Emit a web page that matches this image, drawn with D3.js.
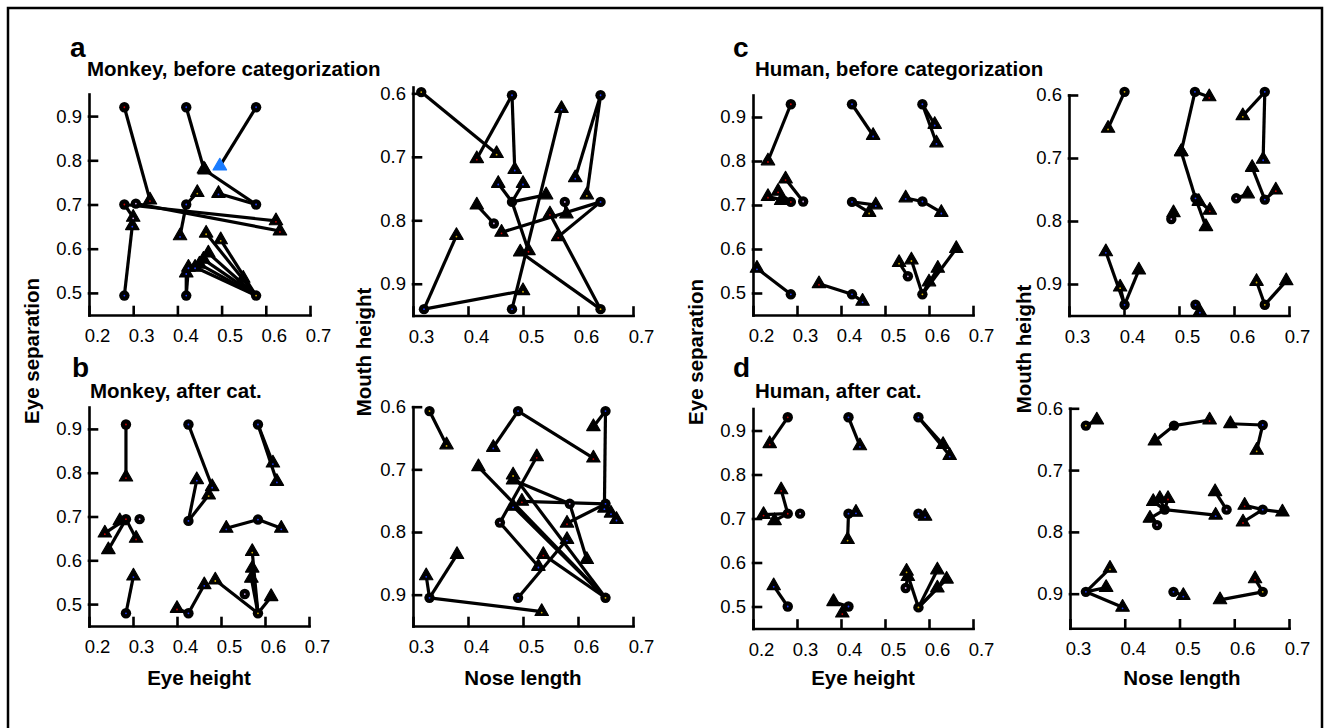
<!DOCTYPE html>
<head>
<meta charset="utf-8">
<script src="https://d3js.org/d3.v7.min.js"></script>
<style>
  body { margin: 0; background: #fff; }
  text { font-family: "Liberation Sans", Arial, sans-serif; fill: #000; }
  .letter { font-weight: bold; font-size: 28px; }
  .title, .axis-title { font-weight: bold; font-size: 20.5px; }
  .axis path, .axis line { stroke: #000; stroke-width: 2.6px; stroke-linecap: square; }
  .axis text { font-size: 18.5px; }
  .link { stroke: #000; stroke-width: 3.2px; }
</style>
</head>
<body>
<script>

// tick labels
var eyeHeightTicks = [0.2, 0.3, 0.4, 0.5, 0.6, 0.7];
var eyeSepTicks = [0.5, 0.6, 0.7, 0.8, 0.9];
var noseTicks = [0.3, 0.4, 0.5, 0.6, 0.7];
var mouthTicks = [0.6, 0.7, 0.8, 0.9];

// prototypes (circles): [x, y, colour]
// measured (triangles): [x, y, index of prototype it is linked to, colour]
var monkeyBeforeEyeCircles = [
  [0.28, 0.92, "r"], [0.42, 0.92, "b"], [0.578, 0.92, "b"],
  [0.28, 0.70, "r"], [0.306, 0.702, "p"], [0.42, 0.70, "b"], [0.578, 0.70, "b"],
  [0.28, 0.494, "b"], [0.42, 0.494, "b"], [0.578, 0.494, "y"]
];
var monkeyBeforeEyeTriangles = [
  [0.338, 0.71, 0, "r"], [0.46, 0.78, 1, "k"], [0.462, 0.778, 6, "k"],
  [0.496, 0.787, 2, "B"], [0.493, 0.725, 6, "b"], [0.623, 0.663, 3, "r"],
  [0.632, 0.64, 4, "r"], [0.30, 0.671, 3, "p"], [0.298, 0.652, 7, "b"],
  [0.406, 0.629, 5, "b"], [0.445, 0.727, 5, "y"], [0.425, 0.558, 8, "b"],
  [0.42, 0.545, 8, "b"], [0.465, 0.635, 9, "y"], [0.498, 0.62, 9, "y"],
  [0.47, 0.59, 9, "k"], [0.459, 0.576, 9, "k"], [0.45, 0.565, 9, "k"],
  [0.44, 0.558, 9, "b"], [0.549, 0.533, 9, "k"]
];

var monkeyBeforeNoseCircles = [
  [0.315, 0.598, "y"], [0.48, 0.603, "b"], [0.641, 0.603, "b"],
  [0.48, 0.771, "k"], [0.576, 0.771, "p"], [0.641, 0.771, "b"],
  [0.447, 0.805, "p"], [0.32, 0.94, "b"], [0.48, 0.94, "b"], [0.641, 0.94, "y"]
];
var monkeyBeforeNoseTriangles = [
  [0.452, 0.695, 0, "y"], [0.416, 0.703, 1, "r"], [0.485, 0.72, 1, "b"],
  [0.57, 0.624, 8, "b"], [0.595, 0.733, 2, "b"], [0.616, 0.76, 2, "y"],
  [0.455, 0.742, 3, "b"], [0.50, 0.742, 3, "b"], [0.542, 0.76, 3, "k"],
  [0.416, 0.776, 6, "k"], [0.461, 0.819, 5, "r"], [0.549, 0.79, 9, "r"],
  [0.579, 0.79, 4, "k"], [0.564, 0.826, 5, "r"], [0.379, 0.824, 7, "y"],
  [0.51, 0.848, 3, "r"], [0.495, 0.85, 9, "k"], [0.50, 0.911, 7, "y"]
];

var monkeyAfterEyeCircles = [
  [0.284, 0.91, "r"], [0.426, 0.91, "b"], [0.584, 0.91, "b"],
  [0.284, 0.694, "r"], [0.315, 0.694, "p"], [0.426, 0.69, "b"], [0.584, 0.693, "b"],
  [0.284, 0.479, "b"], [0.426, 0.479, "b"], [0.584, 0.479, "y"], [0.554, 0.523, "p"]
];
var monkeyAfterEyeTriangles = [
  [0.284, 0.79, 0, "r"], [0.445, 0.784, 5, "b"], [0.48, 0.768, 1, "b"],
  [0.472, 0.749, 5, "y"], [0.618, 0.822, 2, "b"], [0.627, 0.78, 2, "b"],
  [0.512, 0.673, 6, "b"], [0.637, 0.673, 6, "b"], [0.236, 0.662, 3, "r"],
  [0.244, 0.624, 3, "k"], [0.307, 0.65, 3, "r"], [0.27, 0.69, 3, "k"],
  [0.301, 0.564, 7, "b"], [0.40, 0.49, 8, "r"], [0.462, 0.544, 8, "b"],
  [0.487, 0.555, 9, "y"], [0.571, 0.62, 9, "y"], [0.571, 0.582, 9, "k"],
  [0.569, 0.559, 9, "k"], [0.614, 0.517, 9, "k"]
];

var monkeyAfterNoseCircles = [
  [0.33, 0.607, "y"], [0.491, 0.607, "b"], [0.65, 0.607, "b"],
  [0.585, 0.755, "p"], [0.65, 0.755, "b"], [0.458, 0.785, "p"],
  [0.33, 0.905, "b"], [0.491, 0.905, "b"], [0.65, 0.905, "y"]
];
var monkeyAfterNoseTriangles = [
  [0.361, 0.661, 0, "y"], [0.446, 0.665, 1, "b"], [0.628, 0.682, 1, "r"],
  [0.628, 0.632, 2, "k"], [0.648, 0.762, 2, "b"], [0.419, 0.696, 8, "k"],
  [0.482, 0.709, 8, "y"], [0.482, 0.717, 3, "k"], [0.525, 0.68, 5, "r"],
  [0.498, 0.751, 4, "r"], [0.482, 0.759, 8, "b"], [0.58, 0.786, 4, "r"],
  [0.66, 0.77, 4, "b"], [0.67, 0.78, 4, "b"], [0.528, 0.855, 5, "b"],
  [0.58, 0.812, 7, "b"], [0.537, 0.836, 8, "r"], [0.616, 0.844, 3, "k"],
  [0.38, 0.836, 6, "k"], [0.324, 0.87, 6, "b"], [0.534, 0.927, 6, "y"]
];

var humanBeforeEyeCircles = [
  [0.286, 0.929, "r"], [0.425, 0.929, "b"], [0.585, 0.929, "b"],
  [0.286, 0.707, "r"], [0.314, 0.708, "p"], [0.425, 0.707, "b"], [0.585, 0.708, "b"],
  [0.286, 0.497, "b"], [0.425, 0.497, "b"], [0.585, 0.497, "y"], [0.552, 0.538, "p"]
];
var humanBeforeEyeTriangles = [
  [0.234, 0.80, 0, "r"], [0.473, 0.858, 1, "b"], [0.613, 0.883, 2, "b"],
  [0.617, 0.841, 2, "b"], [0.274, 0.759, 4, "r"], [0.257, 0.731, 3, "r"],
  [0.234, 0.719, 3, "r"], [0.264, 0.71, 3, "k"], [0.479, 0.70, 5, "b"],
  [0.464, 0.683, 5, "y"], [0.547, 0.716, 6, "b"], [0.628, 0.683, 6, "b"],
  [0.209, 0.556, 7, "b"], [0.35, 0.521, 8, "r"], [0.449, 0.481, 8, "b"],
  [0.532, 0.569, 10, "y"], [0.56, 0.575, 9, "y"], [0.60, 0.525, 9, "k"],
  [0.62, 0.556, 9, "k"], [0.662, 0.601, 9, "k"]
];

var humanBeforeNoseCircles = [
  [0.401, 0.595, "y"], [0.529, 0.595, "b"], [0.656, 0.595, "b"],
  [0.53, 0.764, "b"], [0.604, 0.764, "p"], [0.656, 0.766, "b"], [0.486, 0.797, "p"],
  [0.401, 0.933, "b"], [0.53, 0.933, "b"], [0.656, 0.933, "y"]
];
var humanBeforeNoseTriangles = [
  [0.371, 0.653, 0, "y"], [0.555, 0.603, 1, "r"], [0.504, 0.69, 1, "k"],
  [0.504, 0.69, 3, "k"], [0.616, 0.633, 2, "y"], [0.653, 0.702, 2, "b"],
  [0.633, 0.715, 5, "k"], [0.625, 0.757, 4, "k"], [0.676, 0.751, 5, "r"],
  [0.536, 0.769, 3, "k"], [0.556, 0.783, 3, "r"], [0.549, 0.809, 3, "k"],
  [0.49, 0.787, 6, "k"], [0.367, 0.849, 7, "b"], [0.393, 0.905, 7, "y"],
  [0.427, 0.878, 7, "k"], [0.538, 0.944, 8, "b"], [0.641, 0.896, 9, "y"],
  [0.695, 0.895, 9, "k"]
];

var humanAfterEyeCircles = [
  [0.279, 0.93, "r"], [0.417, 0.93, "b"], [0.576, 0.93, "b"],
  [0.279, 0.711, "r"], [0.307, 0.711, "p"], [0.417, 0.711, "b"], [0.576, 0.711, "b"],
  [0.279, 0.50, "b"], [0.417, 0.50, "b"], [0.576, 0.498, "y"], [0.547, 0.542, "p"]
];
var humanAfterEyeTriangles = [
  [0.238, 0.87, 0, "r"], [0.443, 0.865, 1, "b"], [0.632, 0.868, 2, "k"],
  [0.647, 0.843, 2, "b"], [0.264, 0.765, 3, "r"], [0.224, 0.709, 3, "r"],
  [0.249, 0.695, 3, "k"], [0.434, 0.714, 5, "b"], [0.415, 0.652, 5, "y"],
  [0.591, 0.705, 6, "b"], [0.247, 0.547, 7, "b"], [0.383, 0.511, 8, "k"],
  [0.403, 0.485, 8, "r"], [0.549, 0.58, 9, "y"], [0.552, 0.568, 10, "k"],
  [0.619, 0.583, 9, "k"], [0.64, 0.562, 9, "k"], [0.619, 0.542, 9, "k"]
];

var humanAfterNoseCircles = [
  [0.329, 0.628, "y"], [0.49, 0.628, "k"], [0.652, 0.627, "b"],
  [0.473, 0.764, "k"], [0.459, 0.789, "p"], [0.586, 0.764, "p"], [0.652, 0.764, "b"],
  [0.329, 0.897, "b"], [0.489, 0.897, "b"], [0.652, 0.897, "y"]
];
var humanAfterNoseTriangles = [
  [0.349, 0.619, 0, "k"], [0.555, 0.619, 1, "r"], [0.455, 0.653, 1, "k"],
  [0.593, 0.625, 2, "k"], [0.641, 0.668, 2, "y"], [0.452, 0.751, 3, "k"],
  [0.464, 0.746, 3, "k"], [0.479, 0.746, 3, "r"], [0.446, 0.778, 3, "k"],
  [0.566, 0.773, 3, "b"], [0.565, 0.735, 5, "k"], [0.619, 0.757, 6, "r"],
  [0.616, 0.784, 6, "r"], [0.688, 0.768, 6, "k"], [0.373, 0.859, 7, "y"],
  [0.366, 0.89, 7, "k"], [0.396, 0.922, 7, "b"], [0.507, 0.903, 8, "b"],
  [0.574, 0.91, 9, "k"], [0.638, 0.876, 9, "r"]
];

var dotColor = { r: "#d00000", b: "#1f3cff", y: "#d8b000", p: "#c9a3e8" };

var svg = d3.select("body").append("svg")
    .attr("width", 1326)
    .attr("height", 728);

// frame
svg.append("path")
    .attr("d", "M8,728V8H1322V728")
    .attr("fill", "none")
    .attr("stroke", "#000")
    .attr("stroke-width", 2.5);

var panels = [
  {c: monkeyBeforeEyeCircles, t: monkeyBeforeEyeTriangles, xd: [0.2, 0.7], xr: [89, 310], yd: [0.45, 0.95], yr: [315, 94], xt: eyeHeightTicks, yt: eyeSepTicks},
  {c: monkeyBeforeNoseCircles, t: monkeyBeforeNoseTriangles, xd: [0.3, 0.7], xr: [413, 633], yd: [0.59, 0.95], yr: [87, 315.5], xt: noseTicks, yt: mouthTicks},
  {c: monkeyAfterEyeCircles, t: monkeyAfterEyeTriangles, xd: [0.2, 0.7], xr: [89, 309], yd: [0.45, 0.95], yr: [626, 407], xt: eyeHeightTicks, yt: eyeSepTicks},
  {c: monkeyAfterNoseCircles, t: monkeyAfterNoseTriangles, xd: [0.3, 0.7], xr: [413, 633], yd: [0.6, 0.95], yr: [406.7, 626], xt: noseTicks, yt: mouthTicks},
  {c: humanBeforeEyeCircles, t: humanBeforeEyeTriangles, xd: [0.2, 0.7], xr: [753, 973], yd: [0.45, 0.95], yr: [315, 95], xt: eyeHeightTicks, yt: eyeSepTicks},
  {c: humanBeforeNoseCircles, t: humanBeforeNoseTriangles, xd: [0.3, 0.7], xr: [1069, 1289], yd: [0.6, 0.95], yr: [95, 315.5], xt: noseTicks, yt: mouthTicks},
  {c: humanAfterEyeCircles, t: humanAfterEyeTriangles, xd: [0.2, 0.7], xr: [753, 973], yd: [0.45, 0.95], yr: [628.5, 408.5], xt: eyeHeightTicks, yt: eyeSepTicks},
  {c: humanAfterNoseCircles, t: humanAfterNoseTriangles, xd: [0.3, 0.7], xr: [1070, 1289], yd: [0.6, 0.956], yr: [408.3, 628.3], xt: noseTicks, yt: mouthTicks}
];

var fmt = d3.format(".1f");
var tri = d3.symbol().type(d3.symbolTriangle).size(78);

panels.forEach(function(p) {
  var x = d3.scaleLinear().domain(p.xd).range(p.xr);
  var y = d3.scaleLinear().domain(p.yd).range(p.yr);
  var bottom = d3.max(p.yr);
  var g = svg.append("g");

  g.append("g")
      .attr("class", "axis")
      .attr("transform", "translate(0," + bottom + ")")
      .call(d3.axisBottom(x).tickValues(p.xt).tickFormat(fmt)
          .tickSizeInner(-8).tickSizeOuter(0).tickPadding(14))
      .selectAll("text").attr("dx", 8);

  g.append("g")
      .attr("class", "axis")
      .attr("transform", "translate(" + p.xr[0] + ",0)")
      .call(d3.axisLeft(y).tickValues(p.yt).tickFormat(fmt)
          .tickSizeInner(-8).tickSizeOuter(0).tickPadding(7));

  g.selectAll(".link")
      .data(p.t)
    .enter().append("line")
      .attr("class", "link")
      .attr("x1", function(d) { return x(p.c[d[2]][0]); })
      .attr("y1", function(d) { return y(p.c[d[2]][1]); })
      .attr("x2", function(d) { return x(d[0]); })
      .attr("y2", function(d) { return y(d[1]); });

  g.selectAll(".tri")
      .data(p.t)
    .enter().append("path")
      .attr("class", "tri")
      .attr("d", tri)
      .attr("transform", function(d) { return "translate(" + x(d[0]) + "," + y(d[1]) + ")"; })
      .attr("fill", function(d) { return d[3] === "B" ? "#1a7cff" : "#000"; })
      .attr("stroke", function(d) { return d[3] === "B" ? "#1a7cff" : "#000"; })
      .attr("stroke-width", 1.2)
      .attr("stroke-linejoin", "round");

  g.selectAll(".proto")
      .data(p.c)
    .enter().append("circle")
      .attr("class", "proto")
      .attr("cx", function(d) { return x(d[0]); })
      .attr("cy", function(d) { return y(d[1]); })
      .attr("r", 5.2)
      .attr("fill", "#000");

  var dots = p.c.concat(p.t).filter(function(d) { return dotColor[d[d.length - 1]]; });
  g.selectAll(".dot")
      .data(dots)
    .enter().append("circle")
      .attr("class", "dot")
      .attr("cx", function(d) { return x(d[0]); })
      .attr("cy", function(d) { return y(d[1]) + (d.length === 4 ? 1 : 0); })
      .attr("r", 0.9)
      .attr("fill", function(d) { return dotColor[d[d.length - 1]]; });
});

// panel letters and titles
var letters = [["a", 70, 57], ["b", 72, 377], ["c", 733, 57], ["d", 733, 377]];
var titles = [
  ["Monkey, before categorization", 87, 75.5],
  ["Monkey, after cat.", 90, 398],
  ["Human, before categorization", 755, 75.5],
  ["Human, after cat.", 755, 398]
];
var xTitles = [["Eye height", 199, 685], ["Nose length", 523, 685], ["Eye height", 863, 685], ["Nose length", 1182, 685]];
var yTitles = [["Eye separation", 39, 351], ["Mouth height", 371, 352], ["Eye separation", 703, 352], ["Mouth height", 1031, 349]];

svg.selectAll(".letter").data(letters).enter().append("text")
    .attr("class", "letter")
    .attr("x", function(d) { return d[1]; })
    .attr("y", function(d) { return d[2]; })
    .text(function(d) { return d[0]; });

svg.selectAll(".title").data(titles).enter().append("text")
    .attr("class", "title")
    .attr("x", function(d) { return d[1]; })
    .attr("y", function(d) { return d[2]; })
    .text(function(d) { return d[0]; });

svg.selectAll(".xtitle").data(xTitles).enter().append("text")
    .attr("class", "axis-title xtitle")
    .attr("text-anchor", "middle")
    .attr("x", function(d) { return d[1]; })
    .attr("y", function(d) { return d[2]; })
    .text(function(d) { return d[0]; });

svg.selectAll(".ytitle").data(yTitles).enter().append("text")
    .attr("class", "axis-title ytitle")
    .attr("text-anchor", "middle")
    .attr("transform", function(d) { return "translate(" + d[1] + "," + d[2] + ") rotate(-90)"; })
    .text(function(d) { return d[0]; });

</script>
</body>
